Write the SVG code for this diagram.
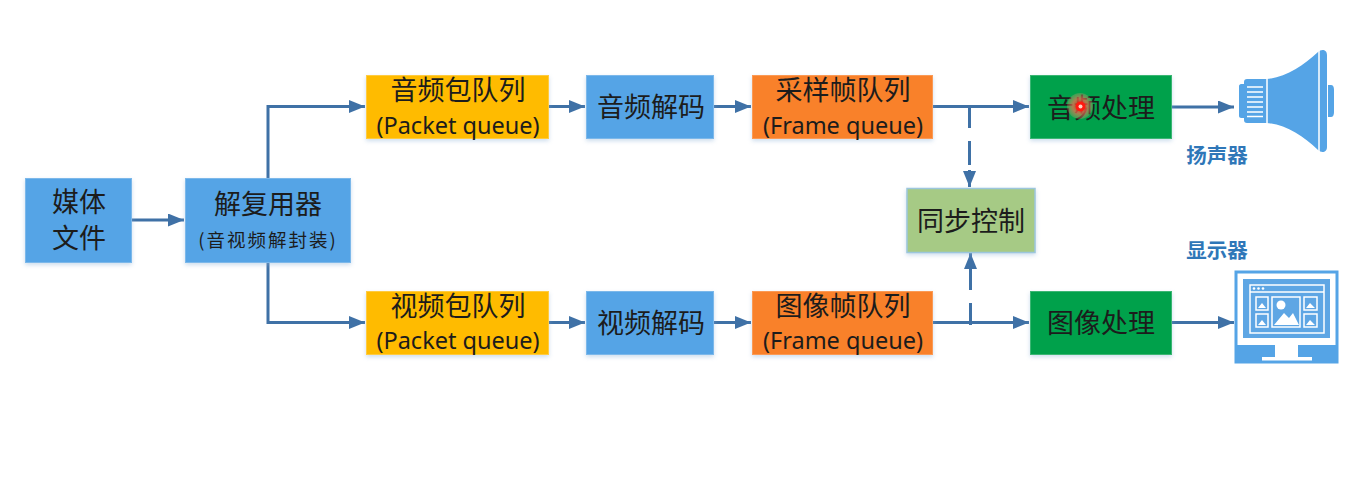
<svg xmlns="http://www.w3.org/2000/svg" width="1356" height="477" viewBox="0 0 1356 477">
<style>
.n{stroke-width:1}
.blue{fill:#55a4e6;stroke:#7bb8ea}
.yel{fill:#ffbb00;stroke:#ffcb40}
.org{fill:#f9812c;stroke:#fb9a55}
.grn{fill:#00a14b;stroke:#3ab673}
.lgr{fill:#a6ca85;stroke:#9cc6dc;stroke-width:1.5}
text{font-family:"Noto Sans CJK SC","Liberation Sans",sans-serif;fill:#1c1c1c;text-anchor:middle}
.t{font-size:27px}
.e{font-size:23.500px;font-family:"Noto Sans","Noto Sans CJK SC",sans-serif}
.c{fill:none;stroke:#3f71a6;stroke-width:3}
.lbl{font-size:20.500px;font-weight:700;fill:#2f77b8}
.icon{fill:#55a4e6}
.w{fill:#fff}
.wl{fill:none;stroke:#fff;stroke-width:1.5}
</style>
<defs>
<marker id="a" markerUnits="userSpaceOnUse" markerWidth="18" markerHeight="14" refX="16" refY="6.500" orient="auto"><path d="M0 0L16 6.500L0 13Z" fill="#3f71a6"/></marker>
<filter id="s" x="-10%" y="-10%" width="120%" height="125%"><feDropShadow dx="0" dy="2" stdDeviation="2" flood-color="#8fb4d8" flood-opacity=".45"/></filter>
<radialGradient id="rg"><stop offset="0" stop-color="#ff1a10"/><stop offset=".55" stop-color="#ff6a50"/><stop offset="1" stop-color="#e9a070" stop-opacity=".35"/></radialGradient>
</defs>
<g id="connectors">
<path class="c" marker-end="url(#a)" d="M132 220H184"/>
<path class="c" marker-end="url(#a)" d="M268 178V106.500H365"/>
<path class="c" marker-end="url(#a)" d="M268 263V322.500H365"/>
<path class="c" marker-end="url(#a)" d="M549 106.500H585"/>
<path class="c" marker-end="url(#a)" d="M549 322.500H585"/>
<path class="c" marker-end="url(#a)" d="M714 106.500H751"/>
<path class="c" marker-end="url(#a)" d="M714 322.500H751"/>
<path class="c" marker-end="url(#a)" d="M933 106.500H1029"/>
<path class="c" marker-end="url(#a)" d="M933 322.500H1029"/>
<path class="c" marker-end="url(#a)" d="M1171 107H1234"/>
<path class="c" marker-end="url(#a)" d="M1171 322.500H1234"/>
<path class="c" marker-end="url(#a)" d="M969.500 105V128M969.500 141V165M969.500 170V187"/>
<path class="c" marker-end="url(#a)" d="M970.500 325V303M970.500 290V253"/>
</g>
<g id="media"><rect class="n blue" x="25.500" y="178.500" width="106" height="84" filter="url(#s)"/><text class="t" x="79" y="212">媒体</text><text class="t" x="79" y="248">文件</text></g>
<g id="demux"><rect class="n blue" x="185.500" y="178.500" width="165" height="84" filter="url(#s)"/><text class="t" x="268" y="214">解复用器</text><text x="268" y="247" font-size="18.500" letter-spacing="2">(音视频解封装)</text></g>
<g id="apq"><rect class="n yel" x="366.500" y="75.500" width="182" height="63" filter="url(#s)"/><text class="t" x="458" y="100">音频包队列</text><text class="e" x="458" y="134">(Packet queue)</text></g>
<g id="vpq"><rect class="n yel" x="366.500" y="291.500" width="182" height="63" filter="url(#s)"/><text class="t" x="458" y="316">视频包队列</text><text class="e" x="458" y="349">(Packet queue)</text></g>
<g id="adec"><rect class="n blue" x="586.500" y="75.500" width="127" height="63" filter="url(#s)"/><text class="t" x="651" y="117">音频解码</text></g>
<g id="vdec"><rect class="n blue" x="586.500" y="291.500" width="127" height="63" filter="url(#s)"/><text class="t" x="651" y="333">视频解码</text></g>
<g id="afq"><rect class="n org" x="752.500" y="75.500" width="180" height="63" filter="url(#s)"/><text class="t" x="843" y="100">采样帧队列</text><text class="e" x="843" y="134">(Frame queue)</text></g>
<g id="vfq"><rect class="n org" x="752.500" y="291.500" width="180" height="63" filter="url(#s)"/><text class="t" x="843" y="316">图像帧队列</text><text class="e" x="843" y="349">(Frame queue)</text></g>
<g id="sync"><rect class="n lgr" x="907" y="188.500" width="128" height="64" filter="url(#s)"/><text class="t" x="971" y="231">同步控制</text></g>
<g id="aproc"><rect class="n grn" x="1030.500" y="75.500" width="141" height="63" filter="url(#s)"/><text class="t" x="1101" y="118">音频处理</text><circle cx="1080" cy="106" r="13" fill="url(#rg)" opacity=".7"/><circle cx="1080.500" cy="106.500" r="5" fill="#ff1a10"/><circle cx="1080.500" cy="106.500" r="2" fill="#ffd0c0"/></g>
<g id="vproc"><rect class="n grn" x="1030.500" y="291.500" width="141" height="63" filter="url(#s)"/><text class="t" x="1101" y="333">图像处理</text></g>
<g id="speaker">
<path class="icon" d="M1247 79H1266C1285 78 1303 66 1318 52C1321 49 1327 49 1327 55V147C1327 153 1321 153 1318 150C1303 136 1285 124 1266 123H1247C1245 123 1244 122 1244 120V118H1241C1240 118 1239 117 1239 116V86C1239 85 1240 84 1241 84H1244V82C1244 80 1245 79 1247 79Z"/>
<path class="icon" d="M1328 85H1331Q1334 85 1334 90V112Q1334 117 1331 117H1328Z"/>
<path class="wl" d="M1267 78V124M1319 50V152"/>
<path fill="none" stroke="#fff" stroke-width="1.500" d="M1247 87H1263M1247 92H1263M1247 97H1263M1247 102H1263M1247 107H1263M1247 112H1263M1247 116.500H1263"/>
<text class="lbl" x="1217" y="163">扬声器</text>
</g>
<g id="monitor">
<rect x="1236" y="272" width="101" height="90" fill="#fff" stroke="#55a4e6" stroke-width="3"/>
<rect x="1243" y="279" width="87" height="59" fill="#5ea6e4"/>
<path class="icon" d="M1236 345H1275V357H1262V362H1236ZM1337 345H1298V357H1312V362H1337Z"/>
<rect x="1250" y="285" width="74" height="48" class="wl"/>
<path class="wl" d="M1250 292H1324"/>
<circle class="w" cx="1254" cy="288.500" r="1.300"/><circle class="w" cx="1258.500" cy="288.500" r="1.300"/><circle class="w" cx="1263" cy="288.500" r="1.300"/>
<rect class="wl" x="1256" y="297" width="12" height="13"/><rect class="wl" x="1256" y="314" width="12" height="13"/><rect class="wl" x="1304" y="297" width="13" height="13"/><rect class="wl" x="1304" y="314" width="13" height="13"/>
<rect class="wl" x="1272" y="297" width="28" height="30"/>
<circle class="w" cx="1281" cy="305" r="4.500"/>
<path class="w" d="M1274 325L1284 313L1289 318L1293 313L1299 325Z"/>
<path class="w" d="M1258 308L1262 303L1266 308ZM1258 325L1262 320L1266 325ZM1306 308L1310 303L1315 308ZM1306 325L1310 320L1315 325Z"/>
<text class="lbl" x="1217" y="258">显示器</text>
</g>
</svg>
